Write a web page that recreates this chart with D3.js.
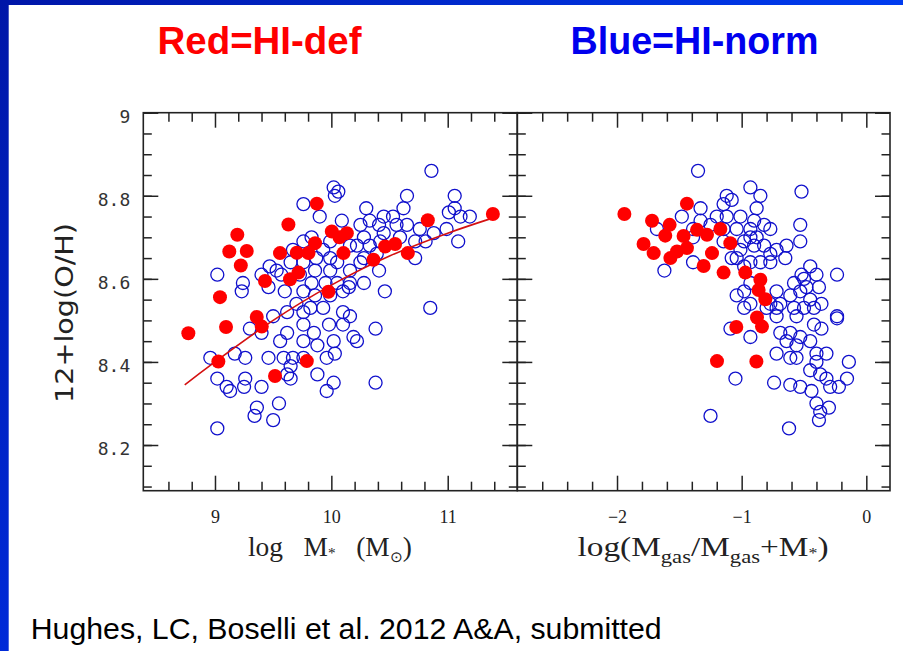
<!DOCTYPE html>
<html>
<head>
<meta charset="utf-8">
<script src="https://cdn.jsdelivr.net/npm/d3@7"></script>
<style>
  html, body { margin: 0; padding: 0; background: #fff; }
  svg { display: block; }
</style>
</head>
<body>
<div id="chart"></div>
<script>
// ---- data ----
// left panel: [log M*, 12+log(O/H)]
var massRed = [
	[9.875,8.781],[9.631,8.731],[9.192,8.706],[9.123,8.666],[9.273,8.667],[9.222,8.632],
	[9.559,8.662],[9.703,8.663],[9.803,8.662],[9.860,8.686],[10.004,8.714],[10.133,8.710],
	[10.07,8.700],[10.104,8.662],[10.462,8.678],[10.548,8.684],[10.362,8.646],[10.657,8.662],
	[10.829,8.741],[11.388,8.756],[9.430,8.595],[9.645,8.599],[9.717,8.615],[9.975,8.569],
	[9.043,8.556],[9.359,8.508],[8.771,8.469],[9.095,8.484],[9.402,8.485],[9.029,8.401],
	[9.516,8.366],[9.789,8.402]
];
var massBlue = [
	[10.86,8.86],[10.02,8.82],[10.06,8.81],[10.03,8.80],[9.76,8.78],[10.65,8.80],[11.06,8.80],
	[10.30,8.77],[10.62,8.77],[11.06,8.77],[11.01,8.76],[11.19,8.75],[11.11,8.75],[10.45,8.75],
	[10.53,8.75],[9.90,8.75],[10.09,8.74],[10.25,8.73],[10.33,8.74],[10.41,8.73],[10.56,8.73],
	[10.65,8.73],[10.76,8.72],[10.45,8.71],[10.28,8.70],[10.33,8.68],[10.22,8.68],[10.42,8.69],
	[10.59,8.70],[10.72,8.69],[10.81,8.69],[10.88,8.71],[11.09,8.69],[10.99,8.72],[9.76,8.69],
	[9.67,8.67],[9.83,8.70],[9.99,8.69],[9.93,8.67],[9.87,8.65],[9.99,8.65],[10.05,8.64],
	[10.16,8.68],[10.28,8.65],[10.39,8.66],[10.25,8.64],[10.16,8.62],[9.99,8.62],[9.86,8.62],
	[9.76,8.64],[9.65,8.64],[9.47,8.63],[9.53,8.62],[9.40,8.61],[9.57,8.61],[9.73,8.61],
	[9.83,8.59],[9.95,8.59],[10.05,8.59],[10.16,8.59],[10.28,8.59],[10.41,8.62],[10.72,8.65],
	[10.46,8.57],[9.02,8.61],[9.24,8.59],[9.23,8.57],[9.46,8.58],[9.60,8.57],[9.76,8.57],
	[9.86,8.56],[9.99,8.56],[10.10,8.57],[10.15,8.58],[10.85,8.53],[9.70,8.54],[9.82,8.53],
	[9.93,8.53],[10.10,8.52],[10.16,8.51],[9.50,8.51],[9.62,8.52],[9.76,8.52],
	[9.30,8.48],[9.40,8.47],[9.62,8.47],[9.76,8.49],[9.85,8.47],[9.98,8.49],[10.10,8.49],
	[10.38,8.48],[9.56,8.45],[9.76,8.45],[9.88,8.44],[10.02,8.45],[10.19,8.46],[10.22,8.45],
	[8.96,8.41],[9.17,8.42],[9.26,8.41],[9.46,8.41],[9.59,8.41],[9.67,8.41],[9.65,8.39],
	[9.76,8.41],[9.96,8.41],[10.03,8.42],[9.02,8.36],[9.10,8.34],[9.13,8.33],[9.26,8.36],
	[9.25,8.34],[9.40,8.34],[9.62,8.37],[9.65,8.36],[9.88,8.37],[10.02,8.35],[9.96,8.33],
	[10.38,8.35],[9.36,8.29],[9.34,8.27],[9.55,8.30],[9.50,8.26],[9.02,8.24]
];
// points
var fitCurve = [[8.74,8.345],[9.0,8.40],[9.5,8.50],[10.0,8.585],[10.5,8.655],[11.0,8.71],[11.37,8.745]];

// right panel: [log(Mgas/(Mgas+M*)), 12+log(O/H)]
var gasRed = [
	[-1.941,8.756],[-1.439,8.781],[-1.719,8.740],[-1.578,8.730],[-1.613,8.704],[-1.787,8.684],
	[-1.706,8.662],[-1.572,8.650],[-1.519,8.666],[-1.439,8.674],[-1.466,8.703],[-1.358,8.718],
	[-1.278,8.706],[-1.171,8.720],[-1.091,8.686],[-1.238,8.662],[-1.305,8.631],[-1.145,8.615],
	[-0.971,8.615],[-0.850,8.598],[-0.864,8.573],[-0.810,8.551],[-0.877,8.507],[-0.837,8.485],
	[-1.043,8.484],[-1.198,8.402],[-0.882,8.401]
];
var gasBlue = [
	[-1.35,8.86],[-0.93,8.82],[-0.85,8.80],[-1.12,8.80],[-1.08,8.79],[-1.145,8.78],[-0.52,8.81],
	[-0.88,8.77],[-1.33,8.77],[-1.20,8.75],[-1.12,8.75],[-1.01,8.75],[-0.90,8.74],[-1.48,8.75],
	[-1.33,8.74],[-0.82,8.73],[-0.77,8.72],[-1.25,8.73],[-1.145,8.72],[-1.04,8.72],[-0.93,8.72],
	[-0.93,8.70],[-0.88,8.70],[-0.98,8.69],[-1.01,8.67],[-0.90,8.68],[-0.82,8.68],[-0.77,8.66],
	[-0.72,8.67],[-0.64,8.68],[-0.65,8.65],[-0.53,8.73],[-0.53,8.69],[-1.68,8.72],[-1.39,8.72],
	[-1.39,8.70],[-1.145,8.69],[-1.04,8.65],[-0.93,8.64],[-0.85,8.64],[-0.77,8.64],[-1.08,8.65],
	[-0.98,8.63],[-1.62,8.62],[-1.39,8.64],[-0.45,8.63],[-0.52,8.61],[-0.50,8.60],[-0.40,8.61],
	[-0.235,8.61],[-0.58,8.59],[-0.48,8.58],[-0.38,8.58],[-0.53,8.57],[-0.45,8.55],[-0.61,8.56],
	[-0.69,8.54],[-0.77,8.54],[-1.04,8.56],[-0.98,8.57],[-0.93,8.59],[-0.72,8.57],[-0.80,8.53],
	[-0.72,8.53],[-0.58,8.53],[-0.50,8.53],[-0.42,8.53],[-0.36,8.54],[-0.235,8.51],[-0.93,8.54],
	[-0.98,8.53],
	[-0.235,8.505],[-0.56,8.51],[-0.72,8.51],[-0.42,8.49],[-0.36,8.48],[-1.09,8.48],[-0.93,8.46],
	[-0.69,8.47],[-0.61,8.47],[-0.53,8.46],[-0.45,8.45],[-0.64,8.45],[-0.56,8.44],[-0.40,8.42],
	[-0.32,8.42],[-0.72,8.42],[-0.61,8.41],[-0.56,8.41],[-0.40,8.40],[-0.14,8.40],[-0.45,8.38],
	[-0.37,8.37],[-0.32,8.36],[-0.155,8.36],[-1.05,8.36],[-0.74,8.35],[-0.61,8.345],[-0.53,8.34],
	[-0.44,8.33],[-0.29,8.34],[-0.22,8.34],[-0.40,8.30],[-0.30,8.29],[-0.37,8.28],[-0.38,8.26],
	[-0.62,8.24],[-1.25,8.27]
];

var yTicks = [8.2, 8.4, 8.6, 8.8, 9];
var massTicks = [9, 10, 11];
var gasTicks = [-2, -1, 0];

// ---- layout ----
var width = 903, height = 651;
var plotTop = 112.7, plotBottom = 490.7;
var svg = d3.select('#chart').append('svg')
		.attr('width', width)
		.attr('height', height);

var defs = svg.append('defs');
var gTop = defs.append('linearGradient').attr('id', 'barTop');
gTop.append('stop').attr('offset', '0%').attr('stop-color', '#0016a8');
gTop.append('stop').attr('offset', '100%').attr('stop-color', '#003cf0');
var gLeft = defs.append('linearGradient').attr('id', 'barLeft')
		.attr('x1', 0).attr('y1', 0).attr('x2', 0).attr('y2', 1);
gLeft.append('stop').attr('offset', '0%').attr('stop-color', '#0016a8');
gLeft.append('stop').attr('offset', '100%').attr('stop-color', '#002ad8');

svg.append('rect').attr('x', 0).attr('y', 0).attr('width', width).attr('height', 5)
	.attr('fill', 'url(#barTop)');
svg.append('rect').attr('x', 0).attr('y', 0).attr('width', 8.7).attr('height', height)
	.attr('fill', 'url(#barLeft)');

// headings
svg.append('text').attr('x', 259.5).attr('y', 54)
	.attr('text-anchor', 'middle')
	.attr('textLength', 204).attr('lengthAdjust', 'spacingAndGlyphs')
	.style('font', 'bold 39px "Liberation Sans", Arial, sans-serif')
	.attr('fill', '#ff0000')
	.text('Red=HI-def');
svg.append('text').attr('x', 694.5).attr('y', 54)
	.attr('text-anchor', 'middle')
	.attr('textLength', 248).attr('lengthAdjust', 'spacingAndGlyphs')
	.style('font', 'bold 39px "Liberation Sans", Arial, sans-serif')
	.attr('fill', '#0000ee')
	.text('Blue=HI-norm');

svg.append('text').attr('x', 30.7).attr('y', 639)
	.attr('textLength', 631).attr('lengthAdjust', 'spacingAndGlyphs')
	.style('font', '30px "Liberation Sans", Arial, sans-serif')
	.attr('fill', '#000')
	.text('Hughes, LC, Boselli et al. 2012 A&A, submitted');

var y = d3.scaleLinear().domain([8.09, 9.0]).range([plotBottom, plotTop]);
var yMinor = d3.range(8.1, 9.0, 0.05).map(function(d) { return +d.toFixed(2); });
var intFmt = d3.format('d');

var drawPanel = function(xScale, majors, minors, showY) {
	var g = svg.append('g');
	var x0 = xScale.range()[0], x1 = xScale.range()[1];

	var tick = function(axis, scale, tx, ty, vals, len, fmt) {
		var a = axis(scale)
				.tickValues(vals)
				.tickSize(-len)
				.tickSizeOuter(0)
				.tickFormat(fmt || '');
		var ax = g.append('g').attr('transform', 'translate(' + tx + ',' + ty + ')').call(a);
		ax.select('.domain').remove();
		ax.selectAll('line').attr('stroke', '#222').attr('stroke-width', 1.5);
		return ax;
	};

	// x ticks, bottom and top
	var bx = tick(d3.axisBottom, xScale, 0, plotBottom, majors, 15, intFmt);
	bx.selectAll('text')
		.attr('y', 20)
		.attr('fill', '#222')
		.style('font', '18px "Liberation Serif", serif');
	tick(d3.axisBottom, xScale, 0, plotBottom, minors, 9);
	tick(d3.axisTop, xScale, 0, plotTop, majors, 15);
	tick(d3.axisTop, xScale, 0, plotTop, minors, 9);

	// y ticks, left and right
	var ly = tick(d3.axisLeft, y, x0, 0, yTicks, 15, showY ? function(d) { return String(d); } : null);
	ly.selectAll('text')
		.attr('x', -13)
		.attr('dy', '0.55em')
		.attr('fill', '#333')
		.style('font', '18px "DejaVu Sans Mono", monospace');
	tick(d3.axisLeft, y, x0, 0, yMinor, 8.5);
	tick(d3.axisRight, y, x1, 0, yTicks, 15);
	tick(d3.axisRight, y, x1, 0, yMinor, 8.5);

	g.append('rect')
		.attr('x', x0).attr('y', plotTop)
		.attr('width', x1 - x0).attr('height', plotBottom - plotTop)
		.attr('fill', 'none')
		.attr('stroke', '#222')
		.attr('stroke-width', 1.6);
	return g;
};

var xMass = d3.scaleLinear().domain([8.384, 11.598]).range([143.3, 517.3]);
var xGas = d3.scaleLinear().domain([-2.8, 0.19]).range([517.3, 890]);

var massMinor = d3.range(8.6, 11.6, 0.2).map(function(d) { return +d.toFixed(1); })
		.filter(function(d) { return massTicks.indexOf(d) < 0; });
var gasMinor = d3.range(-2.6, 0.1, 0.2).map(function(d) { return +d.toFixed(1); })
		.filter(function(d) { return gasTicks.indexOf(d) < 0; });

var pMass = drawPanel(xMass, massTicks, massMinor, true);
var pGas = drawPanel(xGas, gasTicks, gasMinor, false);

var plotPoints = function(g, xScale, blue, red, curve) {
	g.append('g').selectAll('circle')
		.data(blue)
		.enter()
		.append('circle')
			.attr('cx', function(d) { return xScale(d[0]); })
			.attr('cy', function(d) { return y(d[1]); })
			.attr('r', 6.5)
			.attr('fill', 'none')
			.attr('stroke', '#1010cc')
			.attr('stroke-width', 1.3);
	if (curve) {
		var line = d3.line()
				.x(function(d) { return xScale(d[0]); })
				.y(function(d) { return y(d[1]); })
				.curve(d3.curveNatural);
		g.append('path')
			.attr('d', line(curve))
			.attr('fill', 'none')
			.attr('stroke', '#d41010')
			.attr('stroke-width', 1.6);
	}
	g.append('g').selectAll('circle')
		.data(red)
		.enter()
		.append('circle')
			.attr('cx', function(d) { return xScale(d[0]); })
			.attr('cy', function(d) { return y(d[1]); })
			.attr('r', 7)
			.attr('fill', '#ff0000');
};

plotPoints(pMass, xMass, massBlue, massRed, fitCurve);
plotPoints(pGas, xGas, gasBlue, gasRed, null);

// axis titles
svg.append('text')
	.attr('transform', 'translate(73,313) rotate(-90)')
	.attr('text-anchor', 'middle')
	.attr('textLength', 180).attr('lengthAdjust', 'spacingAndGlyphs')
	.attr('fill', '#222')
	.style('font', '24px "DejaVu Sans", sans-serif')
	.text('12+log(O/H)');

var t1 = svg.append('text')
	.attr('x', 330).attr('y', 556)
	.attr('text-anchor', 'middle')
	.attr('textLength', 164).attr('lengthAdjust', 'spacingAndGlyphs')
	.attr('fill', '#222')
	.style('white-space', 'pre')
	.style('font', '27px "Liberation Serif", serif');
t1.append('tspan').text('log   M');
t1.append('tspan').attr('dy', 2).style('font-size', '15px').text('*');
t1.append('tspan').attr('dy', -2).text('   (M');
t1.append('tspan').attr('dy', 6).style('font-size', '15px').text('\u2299');
t1.append('tspan').attr('dy', -6).text(')');

var t2 = svg.append('text')
	.attr('x', 703).attr('y', 556)
	.attr('text-anchor', 'middle')
	.attr('textLength', 251).attr('lengthAdjust', 'spacingAndGlyphs')
	.attr('fill', '#222')
	.style('font', '28px "Liberation Serif", serif');
t2.append('tspan').text('log(M');
t2.append('tspan').attr('dy', 7).style('font-size', '19px').text('gas');
t2.append('tspan').attr('dy', -7).text('/M');
t2.append('tspan').attr('dy', 7).style('font-size', '19px').text('gas');
t2.append('tspan').attr('dy', -7).text('+M');
t2.append('tspan').attr('dy', 2).style('font-size', '15px').text('*');
t2.append('tspan').attr('dy', -2).text(')');
</script>
</body>
</html>
